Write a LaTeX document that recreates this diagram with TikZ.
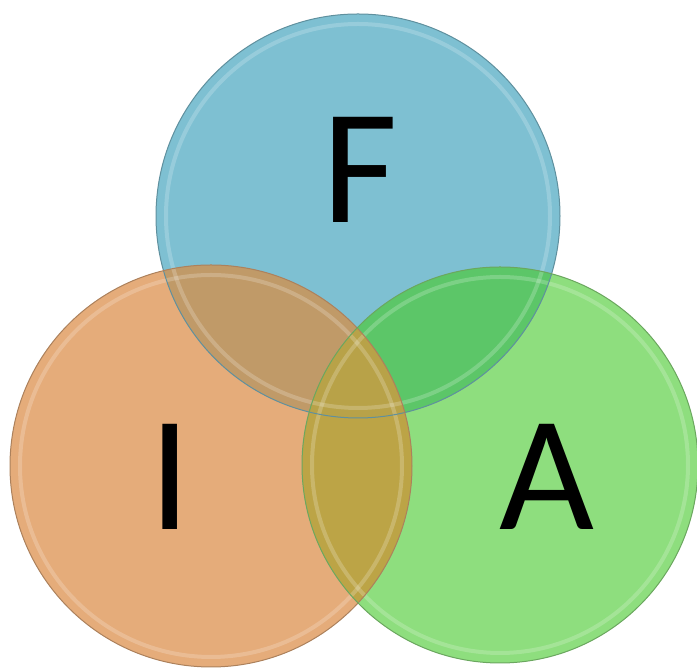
\documentclass[tikz,border=0pt]{standalone}
\usepackage{fontspec}
\setmainfont{Carlito}
\usepackage{tikz}
\tikzset{x=.5pt,y=.5pt}
\usetikzlibrary{positioning}

\definecolor{fcol}{RGB}{126,192,210}
\definecolor{icol}{RGB}{229,172,122}
\definecolor{acol}{RGB}{142,222,126}
\definecolor{ficol}{RGB}{192,154,104}
\definecolor{facol}{RGB}{92,198,104}
\definecolor{iacol}{RGB}{188,164,70}
\definecolor{fiacol}{RGB}{184,162,72}

\tikzset{
  setlabel/.style={font=\fontsize{82}{82}\selectfont, text=black, inner sep=0pt},
  rim/.style={draw=white, line width=2pt, opacity=.2},
}

\begin{document}
\begin{tikzpicture}
\useasboundingbox (0,0) rectangle (697,668);
    % the three sets
    \coordinate (setF) at (358,452);
    \coordinate (setI) at (211,202);
    \coordinate (setA) at (500,203);
    \fill[fcol] (setF) circle (202);
    \fill[icol] (setI) circle (201);
    \fill[acol] (setA) circle (198);
    % overlaps
    \begin{scope}
      \clip (setF) circle (202);
      \fill[ficol] (setI) circle (201);
      \fill[facol] (setA) circle (198);
      \clip (setI) circle (201);
      \fill[fiacol] (setA) circle (198);
    \end{scope}
    \begin{scope}
      \clip (setI) circle (201);
      \clip (setA) circle (198);
      \fill[iacol] (setI) circle (201);
      \clip (setF) circle (202);
      \fill[fiacol] (setA) circle (198);
    \end{scope}
    % glass rims
    \draw[rim] (setF) circle (192);
    \draw[rim] (setI) circle (191);
    \draw[rim] (setA) circle (188);
    \draw[fcol!75!black, line width=.5pt] (setF) circle (202);
    \draw[icol!75!black, line width=.5pt] (setI) circle (201);
    \draw[acol!75!black, line width=.5pt] (setA) circle (198);
    % labels
    \node[setlabel] (labF) at (360,498) {F};
    \node[setlabel] (labI) at (170,191) {I};
    \node[setlabel] (labA) at (547,191) {A};
\end{tikzpicture}
\end{document}
